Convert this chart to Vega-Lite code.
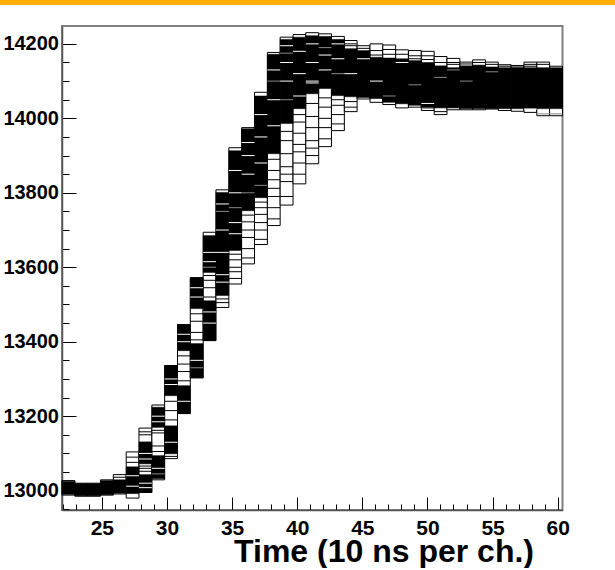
{
"$schema": "https://vega.github.io/schema/vega-lite/v6.json",
"padding": 0,
"background": "white",
"spacing": 20,
"config": {"font": "Liberation Sans", "view": {"stroke": null},
 "axis": {"labelFont": "Liberation Sans", "labelFontWeight": "bold", "labelColor": "black", "labelFontSize": 20}},
"datasets": {
"bins": [
{"x0":21.94,"x1":22.93,"y0":12988,"y1":13027},
{"x0":22.93,"x1":23.91,"y0":12985,"y1":13020},
{"x0":23.91,"x1":24.90,"y0":12985,"y1":13020},
{"x0":24.90,"x1":25.88,"y0":12988,"y1":13029},
{"x0":25.88,"x1":26.87,"y0":12991,"y1":13043},
{"x0":26.87,"x1":27.85,"y0":12980,"y1":13104},
{"x0":27.85,"x1":28.84,"y0":12995,"y1":13168},
{"x0":28.84,"x1":29.82,"y0":13029,"y1":13230},
{"x0":29.82,"x1":30.81,"y0":13086,"y1":13336},
{"x0":30.81,"x1":31.79,"y0":13207,"y1":13446},
{"x0":31.79,"x1":32.78,"y0":13303,"y1":13572},
{"x0":32.78,"x1":33.76,"y0":13403,"y1":13694},
{"x0":33.76,"x1":34.75,"y0":13492,"y1":13808},
{"x0":34.75,"x1":35.73,"y0":13555,"y1":13921},
{"x0":35.73,"x1":36.72,"y0":13609,"y1":13975},
{"x0":36.72,"x1":37.71,"y0":13661,"y1":14070},
{"x0":37.71,"x1":38.69,"y0":13712,"y1":14177},
{"x0":38.69,"x1":39.68,"y0":13767,"y1":14218},
{"x0":39.68,"x1":40.66,"y0":13824,"y1":14225},
{"x0":40.66,"x1":41.65,"y0":13878,"y1":14230},
{"x0":41.65,"x1":42.63,"y0":13924,"y1":14227},
{"x0":42.63,"x1":43.62,"y0":13967,"y1":14220},
{"x0":43.62,"x1":44.60,"y0":14018,"y1":14209},
{"x0":44.60,"x1":45.59,"y0":14052,"y1":14195},
{"x0":45.59,"x1":46.57,"y0":14043,"y1":14200},
{"x0":46.57,"x1":47.56,"y0":14037,"y1":14197},
{"x0":47.56,"x1":48.54,"y0":14028,"y1":14184},
{"x0":48.54,"x1":49.53,"y0":14030,"y1":14182},
{"x0":49.53,"x1":50.52,"y0":14021,"y1":14180},
{"x0":50.52,"x1":51.50,"y0":14010,"y1":14166},
{"x0":51.50,"x1":52.49,"y0":14023,"y1":14161},
{"x0":52.49,"x1":53.47,"y0":14023,"y1":14151},
{"x0":53.47,"x1":54.46,"y0":14023,"y1":14157},
{"x0":54.46,"x1":55.44,"y0":14025,"y1":14151},
{"x0":55.44,"x1":56.43,"y0":14021,"y1":14144},
{"x0":56.43,"x1":57.41,"y0":14019,"y1":14142},
{"x0":57.41,"x1":58.40,"y0":14016,"y1":14151},
{"x0":58.40,"x1":59.38,"y0":14007,"y1":14151},
{"x0":59.38,"x1":60.37,"y0":14007,"y1":14140}
],
"blocks": [
{"x0":21.94,"x1":22.93,"y0":12990,"y1":13025},
{"x0":22.93,"x1":23.91,"y0":12986,"y1":13019},
{"x0":23.91,"x1":24.90,"y0":12986,"y1":13019},
{"x0":24.90,"x1":25.88,"y0":12989,"y1":13027},
{"x0":25.88,"x1":26.87,"y0":12993,"y1":13029},
{"x0":26.87,"x1":27.85,"y0":12992,"y1":13064},
{"x0":27.85,"x1":28.84,"y0":12995,"y1":13043},
{"x0":27.85,"x1":28.84,"y0":13072,"y1":13131},
{"x0":28.84,"x1":29.82,"y0":13032,"y1":13094},
{"x0":28.84,"x1":29.82,"y0":13170,"y1":13224},
{"x0":29.82,"x1":30.81,"y0":13099,"y1":13174},
{"x0":29.82,"x1":30.81,"y0":13255,"y1":13336},
{"x0":30.81,"x1":31.79,"y0":13207,"y1":13282},
{"x0":30.81,"x1":31.79,"y0":13376,"y1":13446},
{"x0":31.79,"x1":32.78,"y0":13303,"y1":13395},
{"x0":31.79,"x1":32.78,"y0":13489,"y1":13572},
{"x0":32.78,"x1":33.76,"y0":13403,"y1":13510},
{"x0":32.78,"x1":33.76,"y0":13586,"y1":13685},
{"x0":33.76,"x1":34.75,"y0":13524,"y1":13801},
{"x0":34.75,"x1":35.73,"y0":13645,"y1":13913},
{"x0":35.73,"x1":36.72,"y0":13752,"y1":13972},
{"x0":36.72,"x1":37.71,"y0":13787,"y1":14060},
{"x0":37.71,"x1":38.69,"y0":13905,"y1":14172},
{"x0":38.69,"x1":39.68,"y0":13986,"y1":14212},
{"x0":39.68,"x1":40.66,"y0":14026,"y1":14218},
{"x0":40.66,"x1":41.65,"y0":14066,"y1":14222},
{"x0":41.65,"x1":42.63,"y0":14080,"y1":14220},
{"x0":42.63,"x1":43.62,"y0":14061,"y1":14212},
{"x0":43.62,"x1":44.60,"y0":14058,"y1":14187},
{"x0":44.60,"x1":45.59,"y0":14056,"y1":14182},
{"x0":45.59,"x1":46.57,"y0":14053,"y1":14164},
{"x0":46.57,"x1":47.56,"y0":14043,"y1":14162},
{"x0":47.56,"x1":48.54,"y0":14039,"y1":14160},
{"x0":48.54,"x1":49.53,"y0":14035,"y1":14155},
{"x0":49.53,"x1":50.52,"y0":14030,"y1":14150},
{"x0":50.52,"x1":51.50,"y0":14028,"y1":14141},
{"x0":51.50,"x1":52.49,"y0":14028,"y1":14136},
{"x0":52.49,"x1":53.47,"y0":14026,"y1":14141},
{"x0":53.47,"x1":54.46,"y0":14026,"y1":14143},
{"x0":54.46,"x1":55.44,"y0":14026,"y1":14138},
{"x0":55.44,"x1":56.43,"y0":14026,"y1":14136},
{"x0":56.43,"x1":57.41,"y0":14026,"y1":14136},
{"x0":57.41,"x1":58.40,"y0":14026,"y1":14136},
{"x0":58.40,"x1":59.38,"y0":14026,"y1":14136},
{"x0":59.38,"x1":60.37,"y0":14026,"y1":14136}
],
"lines": [
{"x0":25.88,"x1":26.87,"y0":13036,"c":"k"},
{"x0":26.87,"x1":27.85,"y0":13090,"c":"k"},
{"x0":26.87,"x1":27.85,"y0":13076,"c":"k"},
{"x0":26.87,"x1":27.85,"y0":13040,"c":"w"},
{"x0":26.87,"x1":27.85,"y0":13012,"c":"w"},
{"x0":27.85,"x1":28.84,"y0":13158,"c":"k"},
{"x0":27.85,"x1":28.84,"y0":13150,"c":"k"},
{"x0":27.85,"x1":28.84,"y0":13100,"c":"w"},
{"x0":27.85,"x1":28.84,"y0":13085,"c":"w"},
{"x0":27.85,"x1":28.84,"y0":13052,"c":"k"},
{"x0":27.85,"x1":28.84,"y0":13060,"c":"k"},
{"x0":27.85,"x1":28.84,"y0":13066,"c":"k"},
{"x0":27.85,"x1":28.84,"y0":13020,"c":"w"},
{"x0":27.85,"x1":28.84,"y0":13008,"c":"w"},
{"x0":28.84,"x1":29.82,"y0":13105,"c":"k"},
{"x0":28.84,"x1":29.82,"y0":13120,"c":"k"},
{"x0":28.84,"x1":29.82,"y0":13155,"c":"k"},
{"x0":28.84,"x1":29.82,"y0":13162,"c":"k"},
{"x0":28.84,"x1":29.82,"y0":13200,"c":"w"},
{"x0":28.84,"x1":29.82,"y0":13185,"c":"w"},
{"x0":28.84,"x1":29.82,"y0":13060,"c":"w"},
{"x0":28.84,"x1":29.82,"y0":13045,"c":"g"},
{"x0":29.82,"x1":30.81,"y0":13190,"c":"k"},
{"x0":29.82,"x1":30.81,"y0":13215,"c":"k"},
{"x0":29.82,"x1":30.81,"y0":13240,"c":"k"},
{"x0":29.82,"x1":30.81,"y0":13300,"c":"w"},
{"x0":29.82,"x1":30.81,"y0":13285,"c":"w"},
{"x0":29.82,"x1":30.81,"y0":13130,"c":"w"},
{"x0":29.82,"x1":30.81,"y0":13092,"c":"k"},
{"x0":30.81,"x1":31.79,"y0":13295,"c":"k"},
{"x0":30.81,"x1":31.79,"y0":13320,"c":"k"},
{"x0":30.81,"x1":31.79,"y0":13340,"c":"k"},
{"x0":30.81,"x1":31.79,"y0":13362,"c":"k"},
{"x0":30.81,"x1":31.79,"y0":13420,"c":"w"},
{"x0":30.81,"x1":31.79,"y0":13400,"c":"w"},
{"x0":30.81,"x1":31.79,"y0":13240,"c":"w"},
{"x0":31.79,"x1":32.78,"y0":13405,"c":"k"},
{"x0":31.79,"x1":32.78,"y0":13425,"c":"k"},
{"x0":31.79,"x1":32.78,"y0":13455,"c":"k"},
{"x0":31.79,"x1":32.78,"y0":13475,"c":"k"},
{"x0":31.79,"x1":32.78,"y0":13520,"c":"w"},
{"x0":31.79,"x1":32.78,"y0":13545,"c":"w"},
{"x0":31.79,"x1":32.78,"y0":13350,"c":"w"},
{"x0":31.79,"x1":32.78,"y0":13330,"c":"g"},
{"x0":32.78,"x1":33.76,"y0":13520,"c":"k"},
{"x0":32.78,"x1":33.76,"y0":13545,"c":"k"},
{"x0":32.78,"x1":33.76,"y0":13565,"c":"k"},
{"x0":32.78,"x1":33.76,"y0":13578,"c":"k"},
{"x0":32.78,"x1":33.76,"y0":13640,"c":"w"},
{"x0":32.78,"x1":33.76,"y0":13615,"c":"w"},
{"x0":32.78,"x1":33.76,"y0":13450,"c":"w"},
{"x0":32.78,"x1":33.76,"y0":13480,"c":"w"},
{"x0":32.78,"x1":33.76,"y0":13600,"c":"g"},
{"x0":33.76,"x1":34.75,"y0":13505,"c":"k"},
{"x0":33.76,"x1":34.75,"y0":13515,"c":"k"},
{"x0":33.76,"x1":34.75,"y0":13700,"c":"w"},
{"x0":33.76,"x1":34.75,"y0":13640,"c":"w"},
{"x0":33.76,"x1":34.75,"y0":13580,"c":"w"},
{"x0":33.76,"x1":34.75,"y0":13560,"c":"w"},
{"x0":33.76,"x1":34.75,"y0":13750,"c":"g"},
{"x0":33.76,"x1":34.75,"y0":13770,"c":"w"},
{"x0":34.75,"x1":35.73,"y0":13570,"c":"k"},
{"x0":34.75,"x1":35.73,"y0":13588,"c":"k"},
{"x0":34.75,"x1":35.73,"y0":13600,"c":"k"},
{"x0":34.75,"x1":35.73,"y0":13620,"c":"k"},
{"x0":34.75,"x1":35.73,"y0":13635,"c":"k"},
{"x0":34.75,"x1":35.73,"y0":13860,"c":"w"},
{"x0":34.75,"x1":35.73,"y0":13800,"c":"w"},
{"x0":34.75,"x1":35.73,"y0":13720,"c":"w"},
{"x0":34.75,"x1":35.73,"y0":13690,"c":"w"},
{"x0":34.75,"x1":35.73,"y0":13760,"c":"g"},
{"x0":35.73,"x1":36.72,"y0":13625,"c":"k"},
{"x0":35.73,"x1":36.72,"y0":13650,"c":"k"},
{"x0":35.73,"x1":36.72,"y0":13680,"c":"k"},
{"x0":35.73,"x1":36.72,"y0":13700,"c":"k"},
{"x0":35.73,"x1":36.72,"y0":13722,"c":"k"},
{"x0":35.73,"x1":36.72,"y0":13740,"c":"k"},
{"x0":35.73,"x1":36.72,"y0":13900,"c":"w"},
{"x0":35.73,"x1":36.72,"y0":13850,"c":"w"},
{"x0":35.73,"x1":36.72,"y0":13800,"c":"g"},
{"x0":35.73,"x1":36.72,"y0":13935,"c":"w"},
{"x0":36.72,"x1":37.71,"y0":13675,"c":"k"},
{"x0":36.72,"x1":37.71,"y0":13700,"c":"k"},
{"x0":36.72,"x1":37.71,"y0":13720,"c":"k"},
{"x0":36.72,"x1":37.71,"y0":13742,"c":"k"},
{"x0":36.72,"x1":37.71,"y0":13760,"c":"k"},
{"x0":36.72,"x1":37.71,"y0":13775,"c":"k"},
{"x0":36.72,"x1":37.71,"y0":13950,"c":"w"},
{"x0":36.72,"x1":37.71,"y0":13880,"c":"w"},
{"x0":36.72,"x1":37.71,"y0":13820,"c":"g"},
{"x0":36.72,"x1":37.71,"y0":14010,"c":"w"},
{"x0":37.71,"x1":38.69,"y0":13730,"c":"k"},
{"x0":37.71,"x1":38.69,"y0":13760,"c":"k"},
{"x0":37.71,"x1":38.69,"y0":13790,"c":"k"},
{"x0":37.71,"x1":38.69,"y0":13812,"c":"k"},
{"x0":37.71,"x1":38.69,"y0":13835,"c":"k"},
{"x0":37.71,"x1":38.69,"y0":13860,"c":"k"},
{"x0":37.71,"x1":38.69,"y0":13890,"c":"k"},
{"x0":37.71,"x1":38.69,"y0":14050,"c":"w"},
{"x0":37.71,"x1":38.69,"y0":13980,"c":"w"},
{"x0":37.71,"x1":38.69,"y0":14100,"c":"g"},
{"x0":37.71,"x1":38.69,"y0":14130,"c":"w"},
{"x0":38.69,"x1":39.68,"y0":13790,"c":"k"},
{"x0":38.69,"x1":39.68,"y0":13830,"c":"k"},
{"x0":38.69,"x1":39.68,"y0":13850,"c":"k"},
{"x0":38.69,"x1":39.68,"y0":13870,"c":"k"},
{"x0":38.69,"x1":39.68,"y0":13905,"c":"k"},
{"x0":38.69,"x1":39.68,"y0":13940,"c":"k"},
{"x0":38.69,"x1":39.68,"y0":13965,"c":"k"},
{"x0":38.69,"x1":39.68,"y0":14100,"c":"w"},
{"x0":38.69,"x1":39.68,"y0":14150,"c":"w"},
{"x0":38.69,"x1":39.68,"y0":14195,"c":"w"},
{"x0":38.69,"x1":39.68,"y0":14050,"c":"g"},
{"x0":38.69,"x1":39.68,"y0":14175,"c":"g"},
{"x0":39.68,"x1":40.66,"y0":13850,"c":"k"},
{"x0":39.68,"x1":40.66,"y0":13880,"c":"k"},
{"x0":39.68,"x1":40.66,"y0":13910,"c":"k"},
{"x0":39.68,"x1":40.66,"y0":13930,"c":"k"},
{"x0":39.68,"x1":40.66,"y0":13960,"c":"k"},
{"x0":39.68,"x1":40.66,"y0":13990,"c":"k"},
{"x0":39.68,"x1":40.66,"y0":14010,"c":"k"},
{"x0":39.68,"x1":40.66,"y0":14180,"c":"w"},
{"x0":39.68,"x1":40.66,"y0":14120,"c":"w"},
{"x0":39.68,"x1":40.66,"y0":14060,"c":"w"},
{"x0":40.66,"x1":41.65,"y0":13900,"c":"k"},
{"x0":40.66,"x1":41.65,"y0":13920,"c":"k"},
{"x0":40.66,"x1":41.65,"y0":13940,"c":"k"},
{"x0":40.66,"x1":41.65,"y0":13975,"c":"k"},
{"x0":40.66,"x1":41.65,"y0":14005,"c":"k"},
{"x0":40.66,"x1":41.65,"y0":14040,"c":"k"},
{"x0":40.66,"x1":41.65,"y0":14200,"c":"w"},
{"x0":40.66,"x1":41.65,"y0":14150,"c":"w"},
{"x0":40.66,"x1":41.65,"y0":14100,"c":"w"},
{"x0":40.66,"x1":41.65,"y0":14095,"c":"w"},
{"x0":41.65,"x1":42.63,"y0":13945,"c":"k"},
{"x0":41.65,"x1":42.63,"y0":13975,"c":"k"},
{"x0":41.65,"x1":42.63,"y0":14000,"c":"k"},
{"x0":41.65,"x1":42.63,"y0":14030,"c":"k"},
{"x0":41.65,"x1":42.63,"y0":14055,"c":"k"},
{"x0":41.65,"x1":42.63,"y0":14170,"c":"w"},
{"x0":41.65,"x1":42.63,"y0":14130,"c":"w"},
{"x0":41.65,"x1":42.63,"y0":14190,"c":"g"},
{"x0":42.63,"x1":43.62,"y0":13985,"c":"k"},
{"x0":42.63,"x1":43.62,"y0":14010,"c":"k"},
{"x0":42.63,"x1":43.62,"y0":14035,"c":"k"},
{"x0":42.63,"x1":43.62,"y0":14050,"c":"k"},
{"x0":42.63,"x1":43.62,"y0":14200,"c":"w"},
{"x0":42.63,"x1":43.62,"y0":14160,"c":"w"},
{"x0":42.63,"x1":43.62,"y0":14120,"c":"g"},
{"x0":43.62,"x1":44.60,"y0":14030,"c":"k"},
{"x0":43.62,"x1":44.60,"y0":14045,"c":"k"},
{"x0":43.62,"x1":44.60,"y0":14195,"c":"k"},
{"x0":43.62,"x1":44.60,"y0":14200,"c":"k"},
{"x0":43.62,"x1":44.60,"y0":14120,"c":"w"},
{"x0":44.60,"x1":45.59,"y0":14188,"c":"k"},
{"x0":44.60,"x1":45.59,"y0":14160,"c":"w"},
{"x0":45.59,"x1":46.57,"y0":14182,"c":"k"},
{"x0":45.59,"x1":46.57,"y0":14170,"c":"k"},
{"x0":45.59,"x1":46.57,"y0":14100,"c":"w"},
{"x0":46.57,"x1":47.56,"y0":14185,"c":"k"},
{"x0":46.57,"x1":47.56,"y0":14172,"c":"k"},
{"x0":46.57,"x1":47.56,"y0":14060,"c":"g"},
{"x0":47.56,"x1":48.54,"y0":14172,"c":"k"},
{"x0":47.56,"x1":48.54,"y0":14150,"c":"w"},
{"x0":48.54,"x1":49.53,"y0":14168,"c":"k"},
{"x0":48.54,"x1":49.53,"y0":14160,"c":"k"},
{"x0":48.54,"x1":49.53,"y0":14090,"c":"g"},
{"x0":49.53,"x1":50.52,"y0":14168,"c":"k"},
{"x0":49.53,"x1":50.52,"y0":14158,"c":"k"},
{"x0":49.53,"x1":50.52,"y0":14040,"c":"w"},
{"x0":49.53,"x1":50.52,"y0":14028,"c":"k"},
{"x0":50.52,"x1":51.50,"y0":14150,"c":"k"},
{"x0":50.52,"x1":51.50,"y0":14018,"c":"k"},
{"x0":50.52,"x1":51.50,"y0":14110,"c":"g"},
{"x0":51.50,"x1":52.49,"y0":14150,"c":"k"},
{"x0":51.50,"x1":52.49,"y0":14145,"c":"k"},
{"x0":51.50,"x1":52.49,"y0":14130,"c":"g"},
{"x0":52.49,"x1":53.47,"y0":14146,"c":"k"},
{"x0":52.49,"x1":53.47,"y0":14100,"c":"g"},
{"x0":53.47,"x1":54.46,"y0":14150,"c":"k"},
{"x0":54.46,"x1":55.44,"y0":14145,"c":"k"},
{"x0":54.46,"x1":55.44,"y0":14125,"c":"g"},
{"x0":55.44,"x1":56.43,"y0":14140,"c":"k"},
{"x0":56.43,"x1":57.41,"y0":14138,"c":"k"},
{"x0":57.41,"x1":58.40,"y0":14145,"c":"k"},
{"x0":57.41,"x1":58.40,"y0":14140,"c":"k"},
{"x0":57.41,"x1":58.40,"y0":14025,"c":"w"},
{"x0":58.40,"x1":59.38,"y0":14145,"c":"k"},
{"x0":58.40,"x1":59.38,"y0":14012,"c":"g"},
{"x0":59.38,"x1":60.37,"y0":14012,"c":"g"}
]
},
"vconcat": [
{
"width": 615, "height": 5,
"view": {"fill": "#FFAD00", "stroke": null},
"data": {"values": [{"t": ""}]},
"mark": {"type": "text", "text": "", "fontSize": 0, "baseline": "top", "align": "left"},
"encoding": {}
},
{
"spacing": 0,
"hconcat": [
{
"width": 1, "height": 1,
"view": {"stroke": null},
"data": {"values": [{"t": ""}]},
"mark": {"type": "text", "text": "", "fontSize": 0, "baseline": "top", "align": "left"},
"encoding": {}
},
{
"width": 500.5, "height": 484,
"view": {"stroke": "#808080", "strokeWidth": 2},
"encoding": {
"x": {"field": "x0", "type": "quantitative",
 "scale": {"domain": [21.94, 60.37], "nice": false, "zero": false},
 "axis": {"values": [22,23,24,25,26,27,28,29,30,31,32,33,34,35,36,37,38,39,40,41,42,43,44,45,46,47,48,49,50,51,52,53,54,55,56,57,58,59,60],
  "format": "d", "grid": false,
  "tickSize": {"condition": {"test": "datum.value % 5 === 0", "value": -13}, "value": -6},
  "tickColor": "black", "tickWidth": 1,
  "labelExpr": "datum.value % 5 === 0 ? datum.label : ''",
  "labelFont": "Liberation Sans", "labelFontSize": 21, "labelFontWeight": "bold", "labelColor": "black",
  "labelPadding": 20, "labelOverlap": false, "labelFlush": false, "labelBound": false,
  "domainColor": "#555555", "domainWidth": 1.5,
  "title": "Time (10 ns per ch.)", "titleFont": "Liberation Sans", "titleFontSize": 32, "titleFontWeight": "bold", "titleColor": "black",
  "titleAnchor": "end", "titleAlign": "right", "titleX": 471.5, "titleY": 51, "titleBaseline": "alphabetic"}},
"x2": {"field": "x1"},
"y": {"field": "y0", "type": "quantitative",
 "scale": {"domain": [12948, 14248], "nice": false, "zero": false},
 "axis": {"values": [12950,13000,13050,13100,13150,13200,13250,13300,13350,13400,13450,13500,13550,13600,13650,13700,13750,13800,13850,13900,13950,14000,14050,14100,14150,14200],
  "format": "d", "grid": false,
  "tickSize": {"condition": {"test": "datum.value % 200 === 0", "value": -14}, "value": -7},
  "tickColor": "black", "tickWidth": 1,
  "labelExpr": "datum.value % 200 === 0 ? datum.label : ''",
  "labelFont": "Liberation Sans", "labelFontSize": 20, "labelFontWeight": "bold", "labelColor": "black",
  "labelPadding": 17.5, "labelOverlap": false, "labelFlush": false, "labelBound": false,
  "domainColor": "#555555", "domainWidth": 1.5,
  "title": null}}
},
"layer": [
{"data": {"name": "bins"}, "mark": {"type": "rect", "fill": "white", "stroke": "black", "strokeWidth": 1}, "encoding": {"y2": {"field": "y1"}}},
{"data": {"name": "blocks"}, "mark": {"type": "rect", "fill": "black", "stroke": "black", "strokeWidth": 0.5}, "encoding": {"y2": {"field": "y1"}}},
{"data": {"name": "lines"}, "mark": {"type": "rule", "strokeWidth": 1},
 "encoding": {"color": {"field": "c", "type": "nominal", "scale": {"domain": ["k","w","g"], "range": ["#000000","#ffffff","#888888"]}, "legend": null}}}
]
}
]
}
]
}
